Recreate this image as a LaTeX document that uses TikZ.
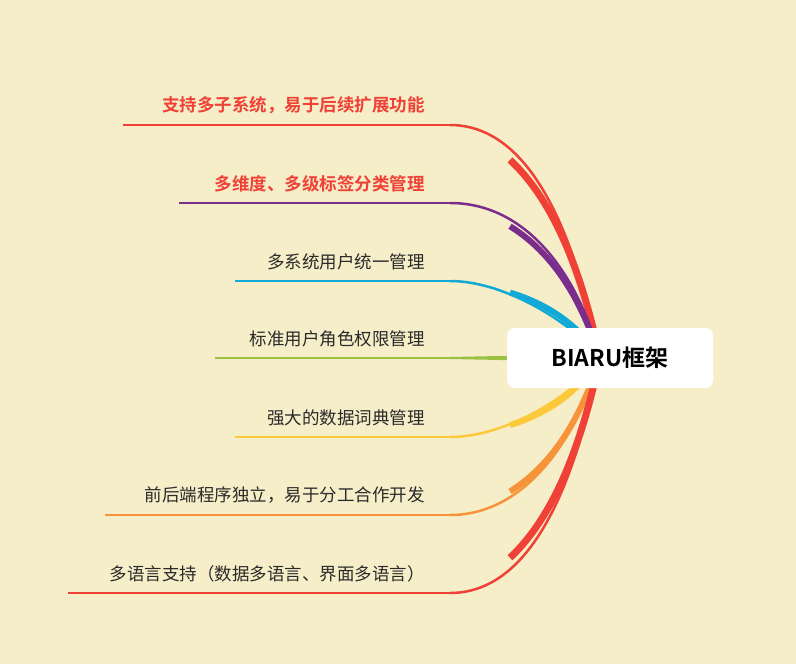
\documentclass[tikz,border=0pt]{standalone}
\usepackage{fontspec}
\setmainfont{Noto Sans CJK SC}
\newfontfamily\cjkb{Noto Sans CJK SC Bold}
\definecolor{bg}{HTML}{F5EEC8}
\definecolor{cA}{HTML}{EF4136}
\definecolor{cB}{HTML}{7B2D8E}
\definecolor{cC}{HTML}{12A9D6}
\definecolor{cD}{HTML}{9BC143}
\definecolor{cE}{HTML}{FBC93A}
\definecolor{cF}{HTML}{F7943A}
\definecolor{txt}{HTML}{2A2A2A}
\begin{document}
\begin{tikzpicture}[x=1pt,y=-1pt,
  lab/.style={anchor=south east,inner sep=0pt,font=\fontsize{17.5}{17.5}\selectfont,text=txt},
  hot/.style={lab,font=\fontsize{17.5}{17.5}\cjkb,text=cA},
  stem/.style={line width=2pt},
  curv/.style={line width=2.5pt}]
\fill[bg] (0,0) rectangle (796,664);
\coordinate (hub) at (600,358);
\foreach \y/\x/\col in {125/123/cA,203/179/cB,281/235/cC,358/215/cD,437/235/cE,515/105/cF,593/68/cA}{
  \draw[stem,\col] (\x,\y) -- (450,\y);
}
\foreach \col/\a/\b/\cc/\w in {cA/125/540/260/7,cB/203/530/280/6,cC/281/510/330/6,cE/437/510/390/6,cF/515/530/430/6,cA/593/540/460/7}{
  \pgfmathsetmacro\d{\cc}
  \draw[curv,\col] (450,\a) .. controls (\b,\a) and (580,\d) .. (hub);
  \draw[line width=\w pt,\col] (510,{\a+0.15*(358-\a)}) .. controls (560,{\a+0.35*(358-\a)}) and (585,{\a+0.7*(358-\a)}) .. (hub);
}
\draw[cD,line width=2pt] (450,358) -- (hub);
\fill[cD] (450,357) -- (600,354) -- (600,362) -- (450,359) -- cycle;
\node[fill=white,rounded corners=8pt,minimum width=206pt,minimum height=60pt,font=\fontsize{23}{23}\cjkb] (c) at (610,358) {BIARU框架};
\node[hot] (n1) at (425,114) {支持多子系统，易于后续扩展功能};
\node[hot] (n2) at (425,192) {多维度、多级标签分类管理};
\node[lab] (n3) at (425,270) {多系统用户统一管理};
\node[lab] (n4) at (425,347) {标准用户角色权限管理};
\node[lab] (n5) at (425,426) {强大的数据词典管理};
\node[lab] (n6) at (425,504) {前后端程序独立，易于分工合作开发};
\node[lab] (n7) at (425,582) {多语言支持（数据多语言、界面多语言）};
\end{tikzpicture}
\end{document}
